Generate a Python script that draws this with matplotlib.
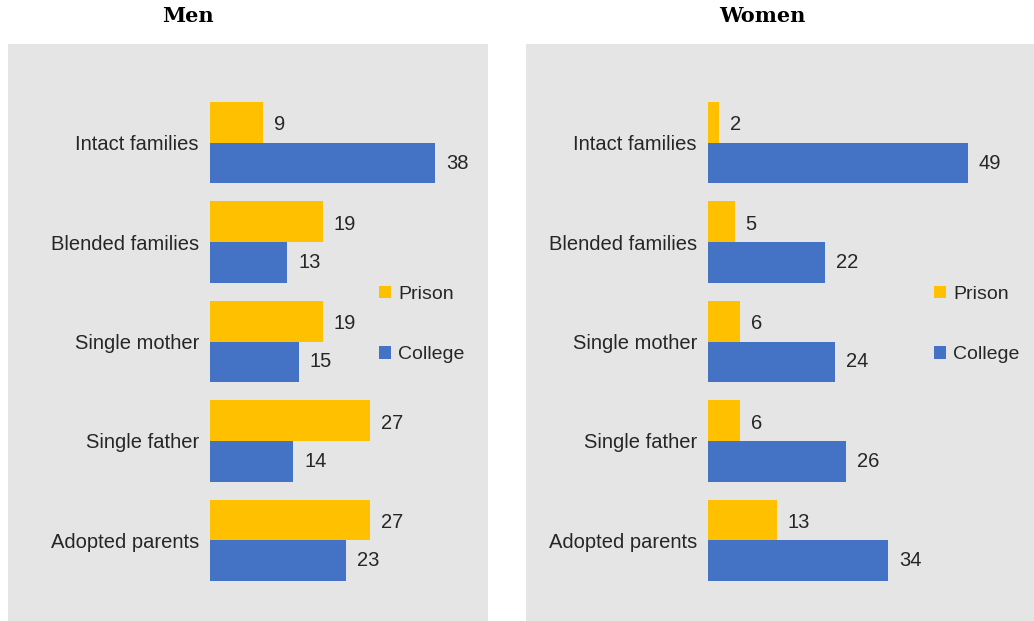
import matplotlib.pyplot as plt
from matplotlib.patches import Rectangle

categories = ['Intact families', 'Blended families', 'Single mother', 'Single father', 'Adopted parents']
men_prison = [9, 19, 19, 27, 27]
men_college = [38, 13, 15, 14, 23]
women_prison = [2, 5, 6, 6, 13]
women_college = [49, 22, 24, 26, 34]

prison_color = '#FFC000'
college_color = '#4472C4'
bg = '#E5E5E5'
W, H = 1034, 621

plt.rcParams['font.family'] = ['Liberation Sans', 'DejaVu Sans']

fig = plt.figure(figsize=(W / 100, H / 100), dpi=100)

# gray panels behind the axes
fig.patches.append(Rectangle((8 / W, 0), 480 / W, 577 / H, transform=fig.transFigure,
                             facecolor=bg, edgecolor='none', zorder=-5))
fig.patches.append(Rectangle((526 / W, 0), 508 / W, 577 / H, transform=fig.transFigure,
                             facecolor=bg, edgecolor='none', zorder=-5))


def panel(left_px, width_px, xmax, prison, college, title, title_x, leg_x):
    ax = fig.add_axes([left_px / W, 1 - 590 / H, width_px / W, 497 / H])
    ax.patch.set_alpha(0)
    y = list(range(len(categories)))
    h = 0.41
    bp = ax.barh([v - h / 2 for v in y], prison, height=h, color=prison_color, label='Prison')
    bc = ax.barh([v + h / 2 for v in y], college, height=h, color=college_color, label='College')
    for vals, dy in ((prison, -h / 2 + 0.025), (college, h / 2)):
        for yi, v in zip(y, vals):
            ax.annotate(str(v), (v, yi + dy), xytext=(11, 0), textcoords='offset pixels',
                        ha='left', va='center', fontsize=14.5, color='#262626')
    ax.set_xlim(0, xmax)
    ax.set_ylim(4.5, -0.5)
    ax.set_yticks(y)
    ax.set_yticklabels(categories, fontsize=14.5, color='#262626')
    ax.tick_params(axis='y', length=0, pad=8)
    ax.set_xticks([])
    for s in ax.spines.values():
        s.set_visible(False)
    fig.text(title_x / W, 1 - 16 / H, title, ha='center', va='center',
             fontsize=15, fontweight='bold', family='DejaVu Serif')
    fig.legend(handles=[bp, bc], loc='center left', bbox_to_anchor=(leg_x / W, 1 - 324.5 / H),
               frameon=False, fontsize=14, handlelength=0.6, handleheight=0.6,
               handletextpad=0.4, labelspacing=2.25, borderpad=0, borderaxespad=0,
               labelcolor='#262626')


panel(210, 270, 270 / 5.93, men_prison, men_college, 'Men', 188, 379)
panel(708, 300, 300 / 5.3, women_prison, women_college, 'Women', 762, 934)

fig.savefig('out.png', dpi=100)
